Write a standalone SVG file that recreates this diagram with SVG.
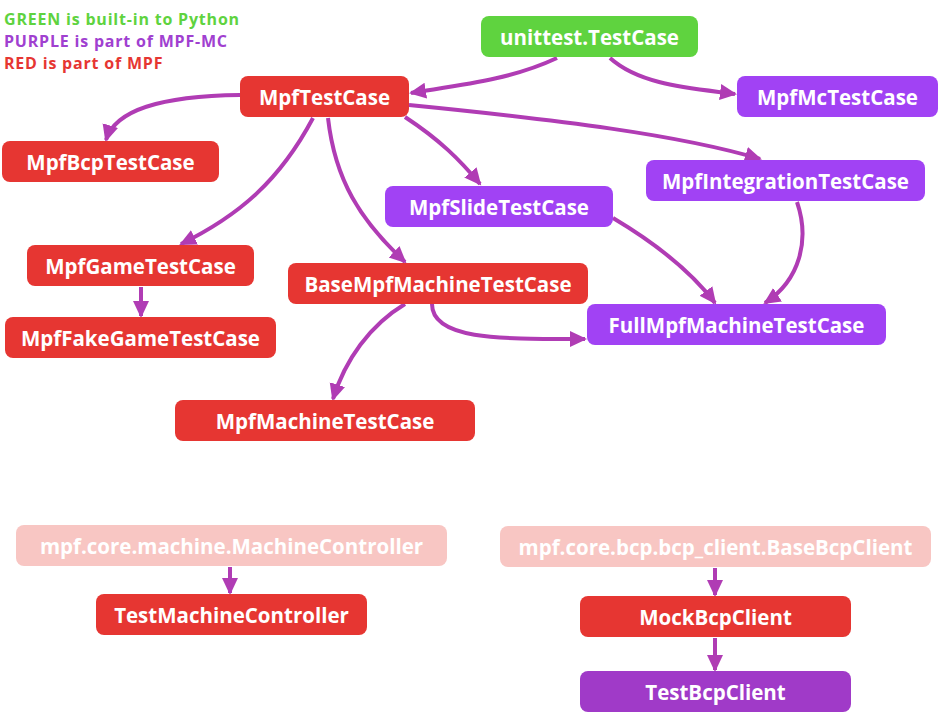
<svg xmlns="http://www.w3.org/2000/svg" width="946" height="718" viewBox="0 0 946 718">
<style>
.n rect{rx:8;ry:8}
.red rect{fill:#e63632}
.pur rect{fill:#a142f4}
.grn rect{fill:#5fd33f}
.pink rect{fill:#f8c6c3}
.dpur rect{fill:#a03ac8}
.n text{font-family:"Open Sans","Noto Sans",sans-serif;font-weight:bold;font-size:20.5px;fill:#fff;text-anchor:middle;dominant-baseline:central}
.e path{fill:none;stroke:#b03cb4;stroke-width:4}
.lg{font-family:"Open Sans","Noto Sans",sans-serif;font-weight:bold;font-size:16px;letter-spacing:0.8px}
</style>
<defs>
<marker id="ah" markerUnits="userSpaceOnUse" markerWidth="18" markerHeight="18" refX="15" refY="8" orient="auto" viewBox="0 0 18 16">
<path d="M0,0 L17,8 L0,16 z" fill="#b03cb4"/>
</marker>
</defs>
<rect width="946" height="718" fill="#fff"/>
<text class="lg" x="4" y="25" fill="#5fd33f">GREEN is built-in to Python</text>
<text class="lg" x="4" y="47" fill="#a040d0">PURPLE is part of MPF-MC</text>
<text class="lg" x="4" y="69" fill="#e63632">RED is part of MPF</text>
<g class="e">
<path d="M557,58 C510,80 460,85 411,93" marker-end="url(#ah)"/>
<path d="M610,58 C640,85 690,88 735,94" marker-end="url(#ah)"/>
<path d="M240,95 C160,96 115,110 106,140" marker-end="url(#ah)"/>
<path d="M313,118 C280,180 240,215 181,244" marker-end="url(#ah)"/>
<path d="M328,118 C335,180 360,220 405,262" marker-end="url(#ah)"/>
<path d="M405,117 C440,140 460,160 480,184" marker-end="url(#ah)"/>
<path d="M409,105 C560,120 680,135 760,159" marker-end="url(#ah)"/>
<path d="M141,287 L141,316" marker-end="url(#ah)"/>
<path d="M405,304 C370,325 345,360 333,399" marker-end="url(#ah)"/>
<path d="M432,304 C432,340 500,339 585,339" marker-end="url(#ah)"/>
<path d="M613,218 C650,240 690,270 715,303" marker-end="url(#ah)"/>
<path d="M797,202 C810,240 800,280 765,303" marker-end="url(#ah)"/>
<path d="M230,567 L230,593" marker-end="url(#ah)"/>
<path d="M715,568 L715,595" marker-end="url(#ah)"/>
<path d="M715,638 L715,670" marker-end="url(#ah)"/>
</g>
<g id="unittest" class="n grn"><rect x="481" y="16" width="217" height="41"/><text x="589.5" y="37">unittest.TestCase</text></g>
<g id="MpfTestCase" class="n red"><rect x="240" y="76" width="169" height="41"/><text x="324.5" y="97">MpfTestCase</text></g>
<g id="MpfMcTestCase" class="n pur"><rect x="737" y="76" width="201" height="41"/><text x="837.5" y="97">MpfMcTestCase</text></g>
<g id="MpfBcpTestCase" class="n red"><rect x="2" y="141" width="217" height="41"/><text x="110.5" y="162">MpfBcpTestCase</text></g>
<g id="MpfGameTestCase" class="n red"><rect x="27" y="245" width="227" height="41"/><text x="140.5" y="266">MpfGameTestCase</text></g>
<g id="MpfFakeGameTestCase" class="n red"><rect x="5" y="317" width="271" height="41"/><text x="140.5" y="338">MpfFakeGameTestCase</text></g>
<g id="BaseMpfMachineTestCase" class="n red"><rect x="288" y="263" width="300" height="41"/><text x="438" y="284">BaseMpfMachineTestCase</text></g>
<g id="MpfSlideTestCase" class="n pur"><rect x="385" y="186" width="228" height="41"/><text x="499" y="207">MpfSlideTestCase</text></g>
<g id="MpfIntegrationTestCase" class="n pur"><rect x="646" y="160" width="279" height="41"/><text x="785.5" y="181">MpfIntegrationTestCase</text></g>
<g id="FullMpfMachineTestCase" class="n pur"><rect x="587" y="304" width="299" height="41"/><text x="736.5" y="325">FullMpfMachineTestCase</text></g>
<g id="MpfMachineTestCase" class="n red"><rect x="175" y="400" width="300" height="41"/><text x="325" y="421">MpfMachineTestCase</text></g>
<g id="MachineController" class="n pink"><rect x="16" y="525" width="431" height="41"/><text x="231.5" y="546">mpf.core.machine.MachineController</text></g>
<g id="TestMachineController" class="n red"><rect x="96" y="594" width="271" height="41"/><text x="231.5" y="615">TestMachineController</text></g>
<g id="BaseBcpClient" class="n pink"><rect x="500" y="526" width="431" height="41"/><text x="715.5" y="547">mpf.core.bcp.bcp_client.BaseBcpClient</text></g>
<g id="MockBcpClient" class="n red"><rect x="580" y="596" width="271" height="41"/><text x="715.5" y="617">MockBcpClient</text></g>
<g id="TestBcpClient" class="n dpur"><rect x="580" y="671" width="271" height="41"/><text x="715.5" y="692">TestBcpClient</text></g>
</svg>
